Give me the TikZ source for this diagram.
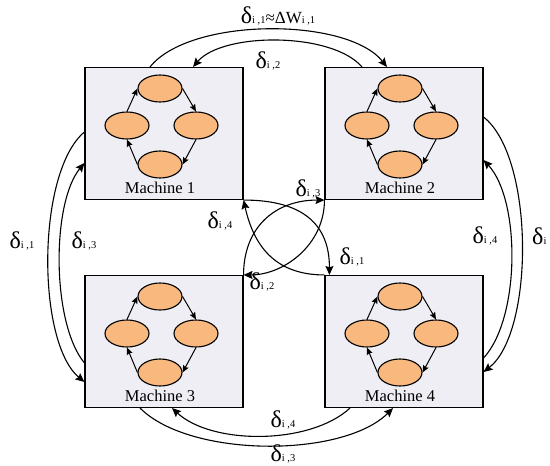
\documentclass[tikz,border=0pt]{standalone}
\usepackage{fontspec}
\setmainfont{Liberation Serif}
\usetikzlibrary{arrows.meta,calc,shapes.geometric}

\definecolor{boxfill}{HTML}{EFEEF4}
\definecolor{cellfill}{HTML}{F8B87E}

% delta label with its small index
\newcommand{\dsub}[1]{{\fontsize{24}{24}\selectfont δ}{\fontsize{10.5}{10.5}\selectfont #1}}

\begin{document}
\begin{tikzpicture}[x=1pt, y=-1pt,
  machine/.style={draw, line width=1.1pt, fill=boxfill, minimum width=158pt, minimum height=132pt, inner sep=0pt},
  cell/.style={draw, ellipse, line width=1.1pt, fill=cellfill, minimum width=44pt, minimum height=27pt, inner sep=0pt},
  link/.style={line width=1.1pt, -{Stealth[length=9pt,width=8pt,inset=1.5pt]}},
  flow/.style={line width=1pt, -{Stealth[length=7pt,width=6pt,inset=1pt]}},
  lbl/.style={inner sep=0pt}]
  \useasboundingbox (0,0) rectangle (550,466);

  % machines with their inner cycle
  \foreach \m/\x/\y in {1/164/133.5, 2/404/133.5, 3/164/341.5, 4/404/341.5} {
    \node[machine] (m\m) at (\x,\y) {};
    \node[cell] (top\m) at (\x-4,\y-45) {};
    \node[cell] (lft\m) at (\x-37,\y-8) {};
    \node[cell] (rgt\m) at (\x+32,\y-8) {};
    \node[cell] (bot\m) at (\x-4,\y+31) {};
    \node[font=\fontsize{16.5}{16.5}\selectfont] (name\m) at (\x-4,\y+54) {Machine \m};
    \draw[flow] (lft\m.north) -- (top\m.west);
    \draw[flow] (top\m.east) -- (rgt\m.north);
    \draw[flow] (rgt\m.south) -- (bot\m.east);
    \draw[flow] (bot\m.west) -- (lft\m.south);
  }

  % top pair
  \draw[link] ([xshift=-14pt]m1.north) .. controls +(40,-50) and +(-40,-50) .. ([xshift=-17pt]m2.north);
  \draw[link] ([xshift=-42pt]m2.north) .. controls +(-30,-35) and +(30,-35) .. ([xshift=29pt]m1.north);
  \node[lbl] (l12) at (278,16) {\dsub{i ,1}{\fontsize{17}{17}\selectfont ≈ΔW}{\fontsize{10.5}{10.5}\selectfont i ,1}};
  \node[lbl] (l21) at (268,61) {\dsub{i ,2}};

  % left pair
  \draw[link] ([yshift=1.5pt]m1.west) .. controls +(-48,40) and +(-48,-40) .. ([yshift=-40.5pt]m3.west);
  \draw[link] ([yshift=-21.5pt]m3.west) .. controls +(-33,-40) and +(-33,40) .. ([yshift=-29.5pt]m1.west);
  \node[lbl] (l13) at (22,241) {\dsub{i ,1}};
  \node[lbl] (l31) at (84,241) {\dsub{i ,3}};

  % right pair
  \draw[link] ([yshift=16.5pt]m2.east) .. controls +(51,40) and +(51,-40) .. ([yshift=-30.5pt]m4.east);
  \draw[link] ([yshift=-16.5pt]m4.east) .. controls +(37,-40) and +(37,40) .. ([yshift=-26.5pt]m2.east);
  \node[lbl] (l42) at (485,236) {\dsub{i ,4}};
  \node[lbl,anchor=west] (l24) at (532,236) {\dsub{i}};

  % bottom pair
  \draw[link] ([xshift=-54pt]m4.south) .. controls +(-40,37) and +(40,37) .. ([xshift=8pt]m3.south);
  \draw[link] ([xshift=-24pt]m3.south) .. controls +(50,50) and +(-50,50) .. ([xshift=-11pt]m4.south);
  \node[lbl] (l43) at (283,420) {\dsub{i ,4}};
  \node[lbl] (l34) at (283,454) {\dsub{i ,3}};

  % crossing links in the middle
  \draw[link] (m1.south east) .. controls +(60,0) and +(0,-50) .. ([xshift=5pt]m4.north west);
  \draw[link] (m4.north west) .. controls +(-50,0) and +(10,45) .. (m1.south east);
  \draw[link] (m3.north east) .. controls +(0,-47) and +(-50,0) .. (m2.south west);
  \draw[link] (m2.south west) .. controls +(0,45) and +(40,0) .. (m3.north east);
  \node[lbl] (l41) at (220,221) {\dsub{i ,4}};
  \node[lbl] (l14) at (352,257) {\dsub{i ,1}};
  \node[lbl] (l23) at (262,282) {\dsub{i ,2}};
  \node[lbl] (l32) at (308,189) {\dsub{i ,3}};
\end{tikzpicture}
\end{document}
